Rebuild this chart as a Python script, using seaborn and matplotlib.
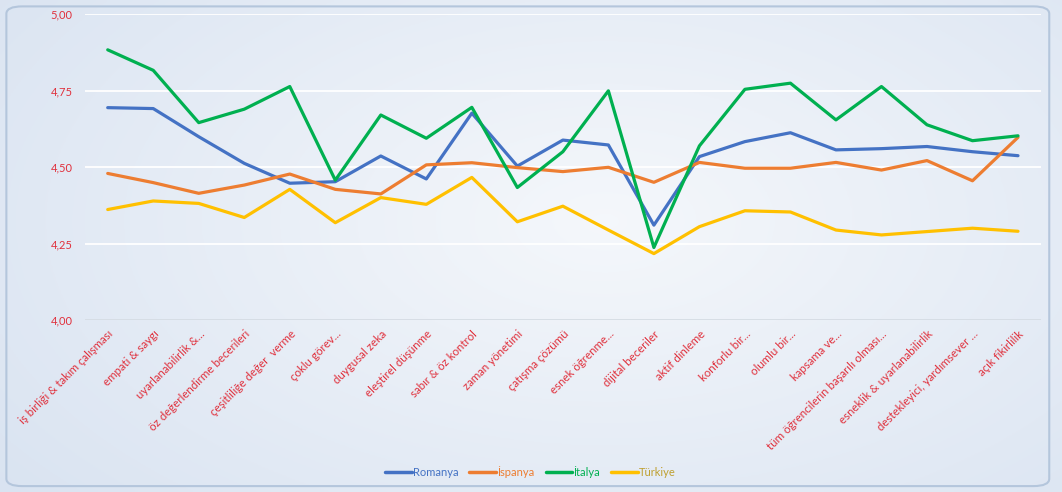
import numpy as np
import pandas as pd
import seaborn as sns
import matplotlib.pyplot as plt
from matplotlib.patches import FancyBboxPatch
from matplotlib.ticker import FuncFormatter

# data
skills = ["iş birliği & takım çalışması", "empati & saygı", "uyarlanabilirlik &...",
          "öz değerlendirme becerileri", "çeşitliliğe değer  verme", "çoklu görev...",
          "duygusal zeka", "eleştirel düşünme", "sabır & öz kontrol", "zaman yönetimi",
          "çatışma çözümü", "esnek öğrenme...", "dijital beceriler", "aktif dinleme",
          "konforlu bir...", "olumlu bir...", "kapsama ve...",
          "tüm öğrencilerin başarılı olması...", "esneklik & uyarlanabilirlik",
          "destekleyici, yardımsever ...", "açık fikirlilik"]
romanya = [4.694, 4.691, 4.599, 4.512, 4.447, 4.452, 4.536, 4.461, 4.676, 4.503, 4.588,
           4.572, 4.310, 4.534, 4.583, 4.612, 4.556, 4.560, 4.567, 4.550, 4.537]
ispanya = [4.479, 4.449, 4.414, 4.441, 4.477, 4.427, 4.412, 4.507, 4.514, 4.498, 4.485,
           4.499, 4.450, 4.515, 4.496, 4.496, 4.515, 4.490, 4.521, 4.455, 4.597]
italya = [4.883, 4.816, 4.645, 4.689, 4.763, 4.457, 4.670, 4.594, 4.695, 4.433, 4.550,
          4.749, 4.237, 4.569, 4.754, 4.774, 4.654, 4.763, 4.638, 4.586, 4.602]
turkiye = [4.361, 4.389, 4.381, 4.335, 4.427, 4.318, 4.400, 4.378, 4.466, 4.321, 4.372,
           4.294, 4.217, 4.305, 4.357, 4.353, 4.294, 4.278, 4.289, 4.300, 4.290]
countries = ["Romanya", "İspanya", "İtalya", "Türkiye"]
colors = ["#4472C4", "#ED7D31", "#00B050", "#FFC000"]
text_colors = ["#4472C4", "#ED7D31", "#00B050", "#BFA030"]

rows = []
for name, vals in zip(countries, [romanya, ispanya, italya, turkiye]):
    for i, v in enumerate(vals):
        rows.append({"idx": i, "skill": skills[i], "ulke": name, "puan": v})
df = pd.DataFrame(rows)

sns.set_theme(style="white")
plt.rcParams['font.family'] = ['Lato', 'DejaVu Sans']

fig = plt.figure(figsize=(10.62, 4.92), dpi=100)

# background gradient + rounded frame
bg = fig.add_axes([0, 0, 1, 1], zorder=0)
yy, xx = np.mgrid[0:1:200j, 0:1:400j]
r = np.sqrt(((xx - 0.57) / 0.75) ** 2 + ((yy - 0.55) / 0.9) ** 2)
r = np.clip(r, 0, 1)
c0 = np.array([0.96, 0.97, 0.985])
c1 = np.array([0.85, 0.89, 0.945])
img = c0[None, None, :] * (1 - r[..., None]) + c1[None, None, :] * r[..., None]
bg.imshow(img, extent=[0, 1, 0, 1], aspect="auto", origin="lower")
bg.add_patch(FancyBboxPatch((0.006, 0.012), 0.982, 0.975,
                            boxstyle="round,pad=0,rounding_size=0.015",
                            fc="none", ec="#B4C6DC", lw=1.5, transform=bg.transAxes))
bg.set_xlim(0, 1)
bg.set_ylim(0, 1)
bg.axis("off")

ax = fig.add_axes([0.080, 0.3496, 0.900, 0.6219], zorder=1)
ax.set_facecolor("none")

sns.lineplot(data=df, x="idx", y="puan", hue="ulke", hue_order=countries,
             palette=colors, linewidth=2.3, sort=False, ax=ax)

ax.set_xlim(-0.5, len(skills) - 0.5)
ax.set_ylim(4.0, 5.0)
ax.set_yticks([4.0, 4.25, 4.5, 4.75, 5.0])
ax.yaxis.set_major_formatter(FuncFormatter(lambda v, p: f"{v:.2f}".replace(".", ",")))
for y in [4.25, 4.5, 4.75, 5.0]:
    ax.axhline(y, color="white", lw=1.3, zorder=0)
ax.axhline(4.0, color="#D5DCE4", lw=1.3, zorder=0)

ax.set_xticks(range(len(skills)))
ax.set_xticklabels(skills, rotation=45, ha="right", rotation_mode="anchor")
ax.tick_params(axis="x", length=0, pad=6, labelsize=8.3, labelcolor="#E0303C")
ax.tick_params(axis="y", length=0, pad=9, labelsize=8, labelcolor="#E0303C")
ax.set_xlabel("")
ax.set_ylabel("")
sns.despine(ax=ax, left=True, bottom=True)

leg = ax.legend(loc="center", bbox_to_anchor=(0.466, -0.498), ncol=4, frameon=False,
                fontsize=8, handlelength=2.4, columnspacing=1.0, handletextpad=0.1)
for txt, tc in zip(leg.get_texts(), text_colors):
    txt.set_color(tc)
for ln in leg.get_lines():
    ln.set_linewidth(2.5)

fig.savefig("out.png", dpi=100)
